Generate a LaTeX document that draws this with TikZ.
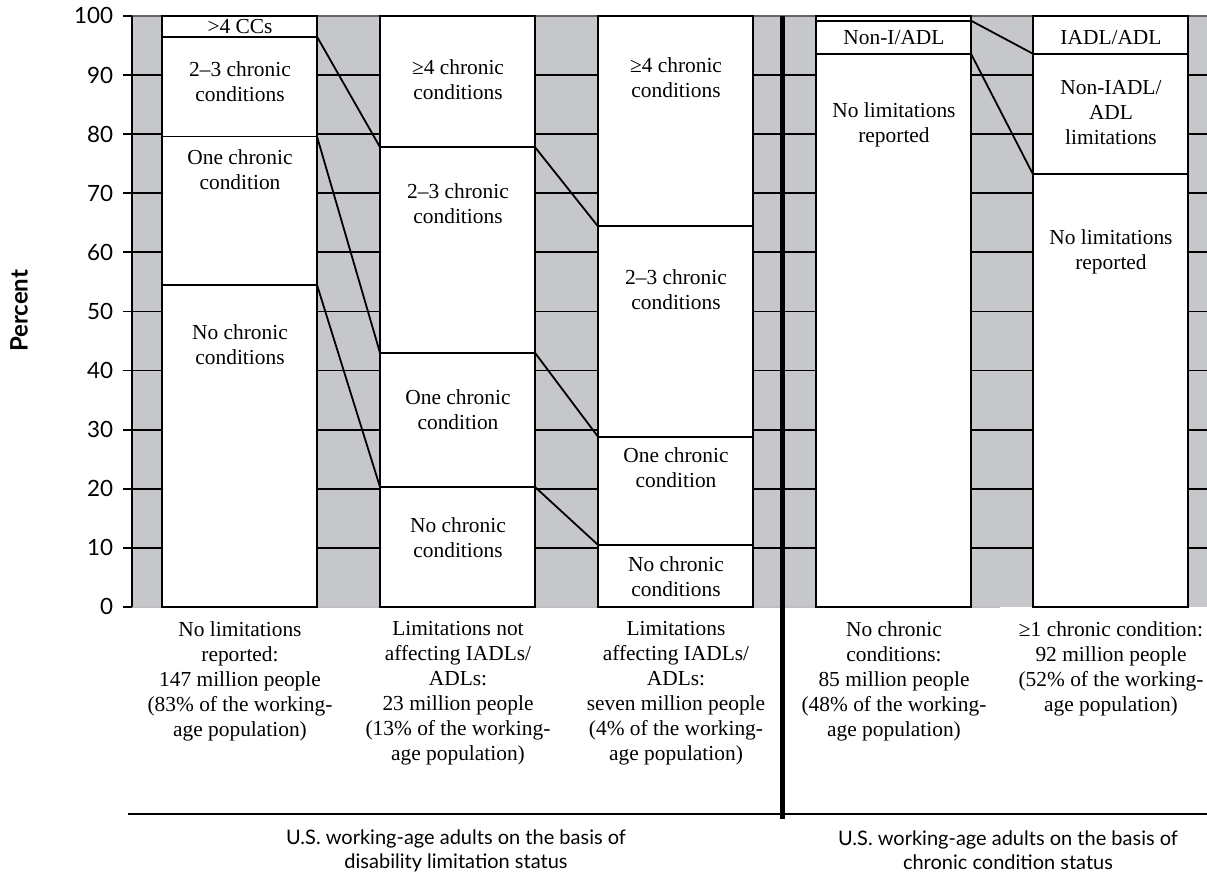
\documentclass[tikz,border=0pt]{standalone}
\usepackage{fontspec}
\setmainfont{Liberation Serif}
\newfontfamily\chartsans{Lato}
\definecolor{chartgray}{RGB}{198,199,202}

\begin{document}
\begin{tikzpicture}[x=0.5pt,y=2.955pt,line width=0.9pt,
  seg/.style={draw,fill=white},
  segtext/.style={align=center,inner sep=0pt,font=\fontsize{10.7}{12.5}\selectfont},
  barlabel/.style={anchor=north,align=center,inner sep=0pt,font=\fontsize{10.7}{12.5}\selectfont},
  ticklabel/.style={anchor=east,inner sep=0pt,font=\chartsans\fontsize{11.2}{13}\selectfont},
  groupcap/.style={align=center,inner sep=0pt,font=\chartsans\fontsize{10}{12}\selectfont}]
  \useasboundingbox (0,-45.35) rectangle (1207,102.7);

  % shaded plot area and grid
  \fill[chartgray] (132,0) rectangle (1207,100);
  \foreach \v in {10,20,...,90}
    \draw (132,\v) -- (1207,\v);
  \draw[black!60] (132,100) -- (1207,100);
  \draw[black!25] (132,0) -- (1000,0);

  % axis
  \draw (132,0) -- (132,100);
  \foreach \v in {0,10,...,100}
  {
    \draw (123,\v) -- (132,\v);
    \node[ticklabel] (tick\v) at (114,\v) {\v};
  }
  \node[rotate=90,font=\chartsans\bfseries\fontsize{12}{14}\selectfont] (ylab) at (19,50.1) {Percent};

  % bar segments
  \foreach \x/\lo/\hi in
  {
    162/0/54.5, 162/54.5/79.6, 162/79.6/96.5, 162/96.5/100,
    380/0/20.3, 380/20.3/43, 380/43/77.8, 380/77.8/100,
    598/0/10.5, 598/10.5/28.8, 598/28.8/64.4, 598/64.4/100,
    816/0/93.6, 816/93.6/99.2, 816/99.2/100,
    1033/0/73.2, 1033/73.2/93.6, 1033/93.6/100%
  }
  {
    \draw[seg] (\x,\lo) rectangle (\x+155,\hi);
  }

  % segment corners joined between bars
  \foreach \n/\x/\v in
  {
    a1/317/96.5, a2/317/79.6, a3/317/54.5,
    b1/380/77.8, b2/380/43, b3/380/20.3,
    c1/535/77.8, c2/535/43, c3/535/20.3,
    d1/598/64.4, d2/598/28.8, d3/598/10.5,
    e1/971/99.2, e2/971/93.6,
    f1/1033/93.6, f2/1033/73.2%
  }
  {
    \coordinate (\n) at (\x,\v);
  }
  \foreach \p/\q in {a1/b1, a2/b2, a3/b3, c1/d1, c2/d2, c3/d3, e1/f1, e2/f2}
    \draw (\p) -- (\q);

  % segment texts
  \node[segtext] (s14) at (240,98.25) {>4 CCs};
  \node[segtext] (s13) at (240,88.9) {2–3 chronic\\conditions};
  \node[segtext] (s12) at (240,74.0) {One chronic\\condition};
  \node[segtext] (s11) at (240,44.3) {No chronic\\conditions};
  \node[segtext] (s24) at (458,89.2) {≥4 chronic\\conditions};
  \node[segtext] (s23) at (458,68.3) {2–3 chronic\\conditions};
  \node[segtext] (s22) at (458,33.3) {One chronic\\condition};
  \node[segtext] (s21) at (458,11.8) {No chronic\\conditions};
  \node[segtext] (s34) at (676,89.6) {≥4 chronic\\conditions};
  \node[segtext] (s33) at (676,53.7) {2–3 chronic\\conditions};
  \node[segtext] (s32) at (676,23.6) {One chronic\\condition};
  \node[segtext] (s31) at (676,5.2) {No chronic\\conditions};
  \node[segtext] (s42) at (894,96.4) {Non-I/ADL};
  \node[segtext] (s41) at (894,81.6) {No limitations\\reported};
  \node[segtext] (s53) at (1111,96.4) {IADL/ADL};
  \node[segtext] (s52) at (1111,83.6) {Non-IADL/\\ADL\\limitations};
  \node[segtext] (s51) at (1111,60.0) {No limitations\\reported};

  % labels under the bars
  \node[barlabel] (l1) at (240,-2.3) {No limitations\\reported:\\147 million people\\(83\% of the working-\\age population)};
  \node[barlabel] (l2) at (458,-2.3) {Limitations not\\affecting IADLs/\\ADLs:\\23 million people\\(13\% of the working-\\age population)};
  \node[barlabel] (l3) at (676,-2.3) {Limitations\\affecting IADLs/\\ADLs:\\seven million people\\(4\% of the working-\\age population)};
  \node[barlabel] (l4) at (894,-2.3) {No chronic\\conditions:\\85 million people\\(48\% of the working-\\age population)};
  \node[barlabel] (l5) at (1111,-2.3) {≥1 chronic condition:\\92 million people\\(52\% of the working-\\age population)};

  % group divider and captions
  \draw (128,-35.0) -- (1207,-35.0);
  \draw[line width=2.5pt] (782,100) -- (782,-35.9);
  \node[groupcap] (g1) at (456,-41.2) {U.S. working-age adults on the basis of\\disability limitation status};
  \node[groupcap] (g2) at (1008,-41.2) {U.S. working-age adults on the basis of\\chronic condition status};
\end{tikzpicture}
\end{document}
